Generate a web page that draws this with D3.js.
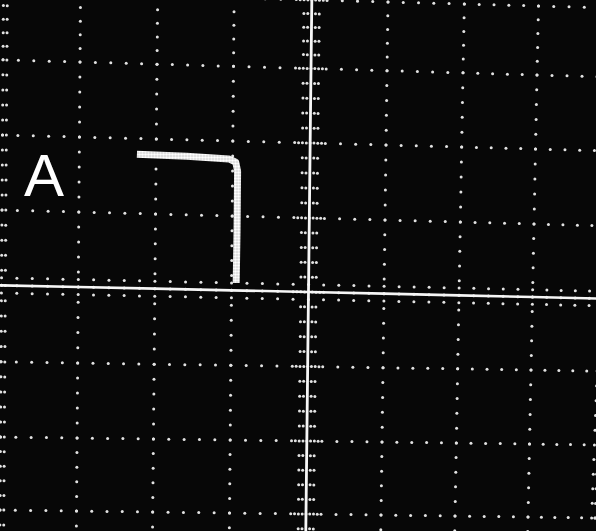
<!DOCTYPE html>
<html>
<head>
    <meta charset="utf-8">
    <title>Scope trace A</title>
    <script src="https://d3js.org/d3.v7.min.js"></script>
    <style>
        html, body {
            margin: 0;
            background: #060606;
            overflow: hidden;
        }
    </style>
</head>
<body>
    <svg id="svg"></svg>
    <script>
        const width = 596;
        const height = 531;

        // graticule, in divisions from the centre
        const columns = [-4, -3, -2, -1, 0, 1, 2, 3, 4];
        const rows = [-4, -3, -2, -1, 0, 1, 2, 3, 4];
        const subdivisions = 5;

        // the trace, in divisions
        const traceU = [-2.25, -1.6, -1.05, -0.96, -0.935, -0.935, -0.94];
        const traceV = [-1.79, -1.78, -1.76, -1.72, -1.6, -0.8, -0.1];

        const panelLabel = "A";

        const svg = d3.select("#svg")
        .attr("width", width)
        .attr("height", height);

        svg.append("rect")
        .attr("width", width)
        .attr("height", height)
        .attr("fill", "#070707");

        // the photo is a little skewed, so each edge gets its own scale
        const xTop = d3.scaleLinear().domain(columns).range([3, 80, 157, 233.5, 311, 387, 463, 537, 612]);
        const xBottom = d3.scaleLinear().domain(columns).range([0, 76.5, 152.7, 229.5, 306, 381, 455, 528, 595]);
        const yLeft = d3.scaleLinear().domain(rows).range([-6, 62, 137, 212, 287, 363, 438, 511, 586]);
        const yRight = d3.scaleLinear().domain(rows).range([6, 75, 149, 224, 297, 370, 444, 517, 590]);

        function project(u, v) {
            const tv = (v + 3) / 6;
            const tu = (u + 3) / 6;
            return [
                xTop(u) + (xBottom(u) - xTop(u)) * tv,
                yLeft(v) + (yRight(v) - yLeft(v)) * tu
            ];
        }

        const defs = svg.append("defs");

        const grad = defs.append("linearGradient").attr("id", "edge");
        grad.append("stop").attr("offset", "0%").attr("stop-color", "#555");
        grad.append("stop").attr("offset", "100%").attr("stop-color", "#eee");

        const tex = defs.append("pattern")
        .attr("id", "tex")
        .attr("width", 3)
        .attr("height", 3)
        .attr("patternUnits", "userSpaceOnUse");
        tex.append("rect").attr("width", 3).attr("height", 3).attr("fill", "#d4d4d4");
        tex.append("circle").attr("cx", 1.5).attr("cy", 1.5).attr("r", 1.3).attr("fill", "#fff");

        // dots
        const steps = d3.range(-4.4 * subdivisions, 4.4 * subdivisions + 1).map(i => i / subdivisions);
        const dots = [];

        columns.filter(c => c !== 0).forEach(c => {
            steps.forEach(v => {
                dots.push([c, v]);
                if (Math.abs(c) === 4) dots.push([c - Math.sign(c) * 0.05, v]);
            });
        });

        rows.filter(r => r !== 0).forEach(r => {
            steps.forEach(u => dots.push([u, r]));
        });

        // ticks on the centre axes
        steps.forEach(u => {
            dots.push([u, -0.1], [u, 0], [u, 0.1]);
        });
        steps.forEach(v => {
            [-0.1, -0.05, 0.05, 0.1].forEach(du => dots.push([du, v]));
        });
        rows.forEach(r => {
            [-0.15, 0.15].forEach(du => dots.push([du, r]));
        });

        svg.append("g")
        .selectAll("circle")
        .data(dots)
        .enter()
        .append("circle")
        .attr("cx", d => project(d[0], d[1])[0])
        .attr("cy", d => project(d[0], d[1])[1])
        .attr("r", 1.5)
        .attr("fill", "#e2e2e2");

        // centre axes
        const line = d3.line();
        const axisSteps = d3.range(-5, 6);

        svg.append("path")
        .attr("d", line(axisSteps.map(u => project(u, 0))))
        .attr("fill", "none")
        .attr("stroke", "#f6f6f6")
        .attr("stroke-width", 2.6);

        svg.append("path")
        .attr("d", line(axisSteps.map(v => project(0, v))))
        .attr("fill", "none")
        .attr("stroke", "#f6f6f6")
        .attr("stroke-width", 2.8);

        // top edge of the photo
        svg.append("line")
        .attr("x1", 0)
        .attr("x2", width)
        .attr("y1", 0.75)
        .attr("y2", 0.75)
        .attr("stroke", "url(#edge)")
        .attr("stroke-width", 1.5);

        // trace
        svg.append("path")
        .attr("d", line(traceU.map((u, i) => project(u, traceV[i]))))
        .attr("fill", "none")
        .attr("stroke", "url(#tex)")
        .attr("stroke-width", 7)
        .attr("stroke-linejoin", "round");

        svg.append("text")
        .attr("x", 24)
        .attr("y", 196)
        .attr("font-family", "Liberation Sans, Arial, sans-serif")
        .attr("font-size", 60)
        .attr("fill", "#fff")
        .text(panelLabel);
    </script>
</body>
</html>
